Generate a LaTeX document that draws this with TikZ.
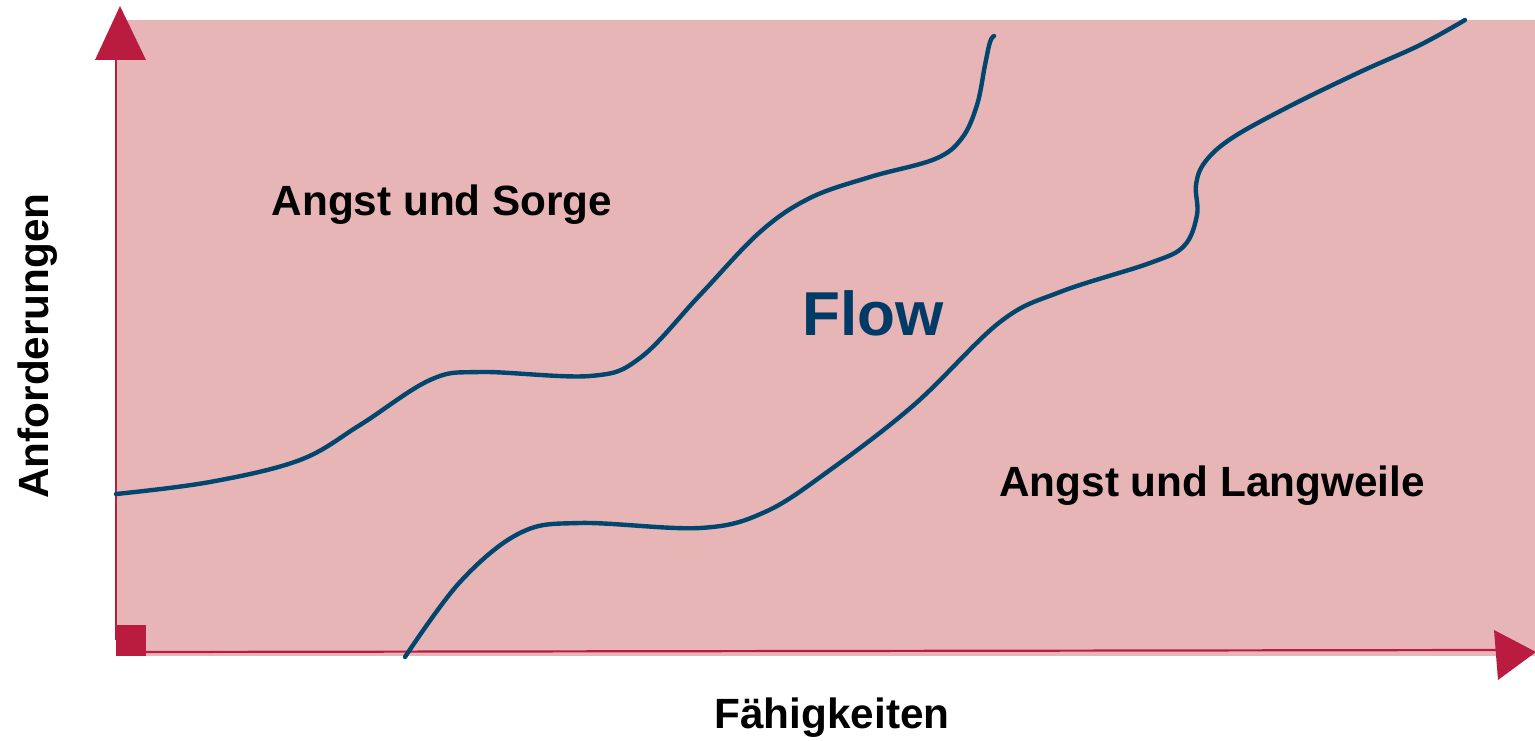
\documentclass[tikz,border=0pt]{standalone}
\usepackage{fontspec}
\setmainfont{Liberation Sans}
\definecolor{bgpink}{HTML}{E7B5B5}
\definecolor{axred}{HTML}{BA1C3F}
\definecolor{curveblue}{HTML}{00466E}
\definecolor{flowblue}{HTML}{003A66}
\begin{document}
\begin{tikzpicture}[x=1pt,y=-1pt,
  lbl/.style={anchor=base,inner sep=0pt,font=\fontsize{42.3}{46}\selectfont\bfseries},
  flowcurve/.style={draw=curveblue,line width=4.4pt,line cap=round,line join=round},
  axis/.style={draw=axred,line width=2.2pt}]
\useasboundingbox (0,0) rectangle (1535,741);
\fill[bgpink] (116,20) rectangle (1535,656);
% axes
\draw[axis] (116,58) -- (116,640);
\draw[axis] (144,652) -- (1496,650);
\fill[axred] (95,60) -- (120,6) -- (146,60) -- cycle;
\fill[axred] (116,625) rectangle (146,656);
\fill[axred] (1494,630) -- (1536,652) -- (1498,680) -- cycle;
% curves
\draw[flowcurve] plot[smooth,tension=0.6] coordinates {(116,494) (210,482) (300,460) (360,425) (430,380) (480,372) (590,376) (640,358) (700,295) (760,232) (810,198) (870,177) (935,159) (962,138) (977,105) (985,65) (990,42) (994,36)};
\draw[flowcurve] plot[smooth,tension=0.6] coordinates {(405,657) (460,582) (520,533) (580,523) (700,528) (765,512) (830,470) (915,404) (1000,322) (1060,292) (1150,263) (1184,246) (1197,215) (1196,185) (1205,162) (1232,138) (1290,106) (1360,72) (1420,45) (1465,20)};
% labels
\node[lbl] (sorge) at (442,215) {Angst und Sorge};
\node[lbl] (lw) at (1212,496) {Angst und Langweile};
\node[lbl,text=flowblue,font=\fontsize{62}{66}\selectfont\bfseries] (flow) at (873,335) {Flow};
\node[lbl] (fae) at (832,728) {Fähigkeiten};
\node[lbl,rotate=90] (anf) at (48,346) {Anforderungen};
\end{tikzpicture}
\end{document}
